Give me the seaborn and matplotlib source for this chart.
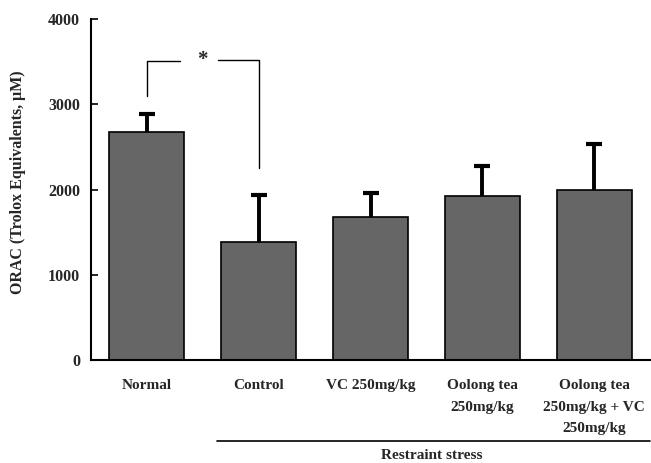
import matplotlib
matplotlib.use("Agg")
import matplotlib.pyplot as plt
import matplotlib.transforms as mtransforms
import numpy as np
import pandas as pd
import seaborn as sns

# Group labels, mean ORAC values and upper SD
groups = ["Normal", "Control", "VC 250mg/kg", "Oolong tea\n250mg/kg",
          "Oolong tea\n250mg/kg + VC\n250mg/kg"]
orac = [2675, 1385, 1680, 1925, 1995]
sd = [205, 550, 280, 350, 540]
yticks = [0, 1000, 2000, 3000, 4000]

sns.set_theme(style="white")
plt.rcParams["font.family"] = ["Liberation Serif", "DejaVu Serif"]
plt.rcParams["font.weight"] = "bold"

fig = plt.figure(figsize=(6.51, 4.63), dpi=100)
ax = fig.add_axes([91 / 651, 1 - 360 / 463, 559 / 651, 341 / 463])

df = pd.DataFrame({"group": groups, "orac": orac})
sns.barplot(data=df, x="group", y="orac", ax=ax, color="#666666",
            saturation=1, width=0.67, edgecolor="black", linewidth=1.2,
            errorbar=None)

# Upper-only error bars: stem from bar top plus a cap
x = np.arange(len(groups))
top = np.array(orac) + np.array(sd)
ax.vlines(x, orac, top, color="black", linewidth=2.8, zorder=3)
ax.plot(x, top, linestyle="none", marker="_", markersize=12,
        markeredgewidth=3.0, color="black", zorder=3)

ax.set_xlim(-0.5, len(groups) - 0.5)
ax.set_ylim(0, 4000)
ax.set_yticks(yticks)
ax.set_yticklabels([str(v) for v in yticks], fontsize=11.5, fontweight="bold")
ax.set_xticks(x)
ax.set_xticklabels(groups, fontsize=11, fontweight="bold",
                   linespacing=1.85, multialignment="center")
ax.set_xticks(np.arange(len(groups)) + 0.5, minor=True)
ax.tick_params(axis="x", which="major", length=0, pad=14)
ax.tick_params(axis="x", which="minor", direction="in", length=5, width=1.2,
               color="black")
ax.tick_params(axis="y", direction="in", length=5, width=1.2, color="black",
               left=True, pad=8)
ax.set_xlabel("")
ax.set_ylabel("")
fig.text(18 / 651, 1 - 182 / 463, "ORAC (Trolox Equivalents, μM)",
         rotation=90, ha="center", va="center", fontsize=11.5,
         fontweight="bold")

for side in ("top", "right"):
    ax.spines[side].set_visible(False)
for side in ("left", "bottom"):
    ax.spines[side].set_color("black")
    ax.spines[side].set_linewidth(1.5)

# Significance bracket between Normal and Control
bk = dict(color="black", linewidth=1.0)
ax.plot([0, 0, 0.3], [3100, 3510, 3510], **bk)
ax.plot([0.64, 1, 1], [3515, 3515, 2250], **bk)
ax.text(0.5, 3515, "*", ha="center", va="center", fontsize=15,
        fontweight="bold")

# Restraint stress group line under the axis
trans = mtransforms.blended_transform_factory(ax.transData, ax.transAxes)
ax.plot([0.63, 4.5], [-0.237, -0.237], color="black", linewidth=1.2,
        transform=trans, clip_on=False)
ax.text(2.55, -0.28, "Restraint stress", transform=trans, ha="center",
        va="center", fontsize=11, fontweight="bold")

fig.savefig("out.png", dpi=100)
